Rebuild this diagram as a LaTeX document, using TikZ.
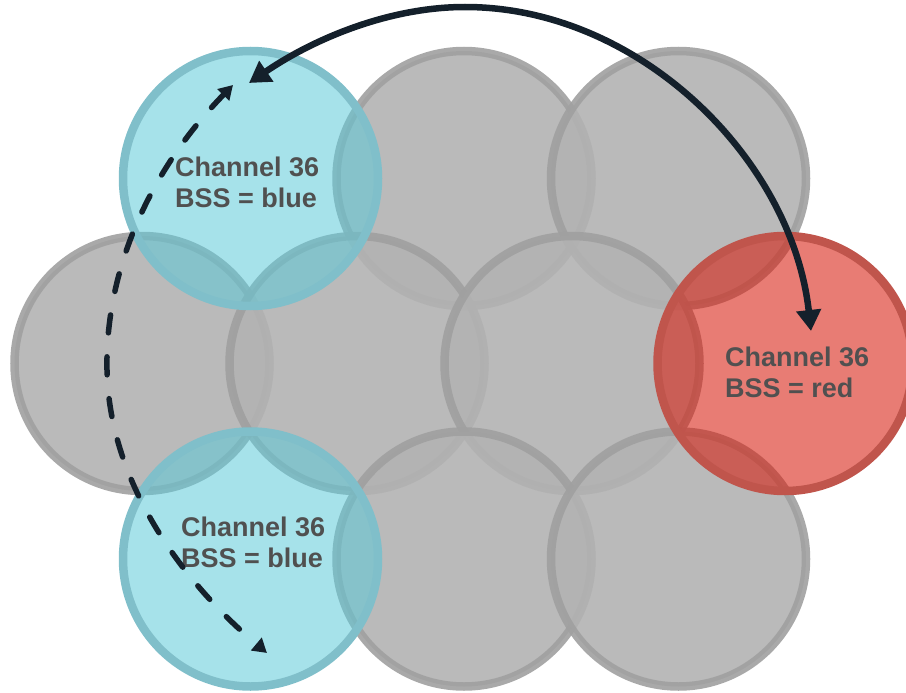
\documentclass[tikz,border=0pt]{standalone}
\usepackage{fontspec}
\setmainfont{Liberation Sans}
\usetikzlibrary{arrows.meta}
\definecolor{cellfill}{HTML}{B2B2B2}
\definecolor{cellline}{HTML}{A0A0A0}
\definecolor{bluefill}{RGB}{93,202,217}
\definecolor{blueline}{HTML}{80BFCA}
\definecolor{redfill}{RGB}{215,29,15}
\definecolor{redline}{HTML}{C0554C}
\definecolor{labelink}{HTML}{505050}
\definecolor{arrowink}{HTML}{14202B}

\begin{document}
\begin{tikzpicture}[x=1pt,y=-1pt,
  cell/.style={circle,minimum size=255pt,inner sep=0pt,line width=8.5pt},
  graycell/.style={cell,fill=cellfill,draw=cellline,opacity=0.9},
  bluecell/.style={cell,fill=bluefill,fill opacity=0.55,draw=blueline},
  redcell/.style={cell,fill=redfill,fill opacity=0.58,draw=redline},
  bss/.style={anchor=base west,align=left,inner sep=0pt,text=labelink,font=\fontsize{27}{31}\selectfont\bfseries},
  hop/.style={draw=arrowink,line width=6.5pt,{Triangle[length=21pt,width=24pt]}-{Triangle[length=21pt,width=24pt]}},
  roam/.style={draw=arrowink,line width=5.5pt,line cap=round,dash pattern=on 18pt off 24pt,{Triangle[length=14pt,width=16pt]}-{Triangle[length=14pt,width=16pt]}}]
\useasboundingbox (0,0) rectangle (906,693);
% grey cells
\node[graycell] (top2) at (464,178.5) {};
\node[graycell] (top3) at (678.5,178.5) {};
\node[graycell] (mid1) at (142,363.5) {};
\node[graycell] (mid2) at (357,363.5) {};
\node[graycell] (mid3) at (572,363.5) {};
\node[graycell] (bot2) at (464,559) {};
\node[graycell] (bot3) at (678.5,559) {};
% cells on channel 36
\node[bluecell] (top1) at (250.5,178.5) {};
\node[bluecell] (bot1) at (250.5,559) {};
\node[redcell] (mid4) at (785,363.5) {};
\node[bss] (top1txt) at (175,207) {Channel 36\\BSS = blue};
\node[bss] (bot1txt) at (181,567) {Channel 36\\BSS = blue};
\node[bss] (mid4txt) at (725,397) {Channel 36\\BSS = red};
% arrows
\coordinate (hopA) at (249,83);
\coordinate (hopB) at (811,331);
\coordinate (roamA) at (233,85);
\coordinate (roamB) at (267,653);
\draw[hop] (hopA) .. controls (315,38) and (390,7) .. (465,7) .. controls (640,7) and (792,160) .. (hopB);
\draw[roam] (roamA) .. controls (150,170) and (105,270) .. (107,370) .. controls (109,480) and (180,580) .. (roamB);
\end{tikzpicture}
\end{document}
